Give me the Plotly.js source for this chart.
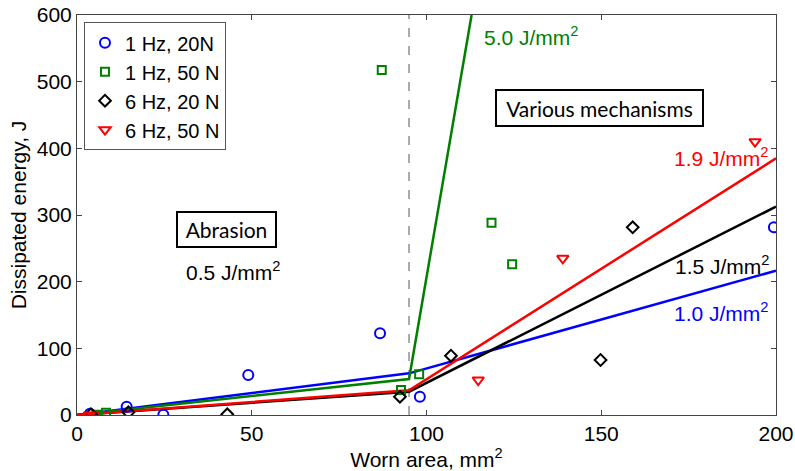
<!DOCTYPE html>
<html>
<head>
<meta charset="utf-8">
<script src="https://cdn.plot.ly/plotly-3.0.1.min.js"></script>
<style>html,body{margin:0;padding:0;background:#fff;}#chart{width:795px;height:471px;}</style>
</head>
<body>
<div id="chart"></div>
<script>
// Measured data points
const hz1n20_x = [3.7, 14.2, 24.7, 49, 86.7, 98.1, 199.4];
const hz1n20_y = [2, 12.5, 0.5, 60, 122.5, 27.5, 281.5];

const hz1n50_x = [5.6, 8.3, 87.2, 92.7, 97.9, 118.6, 124.5];
const hz1n50_y = [0.5, 3.5, 517.5, 37.5, 61, 288.5, 226];

const hz6n20_x = [4, 14.7, 43, 92.4, 107, 149.8, 159];
const hz6n20_y = [1, 4, 1, 27.5, 89, 82.5, 281.5];

const hz6n50_x = [3.5, 114.8, 139, 194];
const hz6n50_y = [0, 52.5, 235, 410];

// Fitted piecewise lines
const fit1n20_x = [0, 95, 200];
const fit1n20_y = [0, 62.5, 216.5];
const fit1n50_x = [0, 95, 112.9];
const fit1n50_y = [0, 54, 600];
const fit6n20_x = [0, 95, 200];
const fit6n20_y = [0, 35, 312.5];
const fit6n50_x = [0, 95, 200];
const fit6n50_y = [0, 37, 385];

const breakX = 95;

const BLUE = '#0000ff', GREEN = '#007f00', BLACK = '#000000', RED = '#ff0000';
const FONT = 'Liberation Sans, Arial, sans-serif';

const traces = [
  {x: fit1n20_x, y: fit1n20_y, mode: 'lines', line: {color: BLUE, width: 2.5}, showlegend: false, hoverinfo: 'skip'},
  {x: fit1n50_x, y: fit1n50_y, mode: 'lines', line: {color: GREEN, width: 2.5}, showlegend: false, hoverinfo: 'skip'},
  {x: fit6n20_x, y: fit6n20_y, mode: 'lines', line: {color: BLACK, width: 2.5}, showlegend: false, hoverinfo: 'skip'},
  {x: fit6n50_x, y: fit6n50_y, mode: 'lines', line: {color: RED, width: 2.5}, showlegend: false, hoverinfo: 'skip'},
  {x: hz1n20_x, y: hz1n20_y, mode: 'markers', name: '1 Hz, 20N',
   marker: {symbol: 'circle-open', size: 10, color: BLUE, line: {width: 2, color: BLUE}}},
  {x: hz1n50_x, y: hz1n50_y, mode: 'markers', name: '1 Hz, 50 N',
   marker: {symbol: 'square-open', size: 8, color: GREEN, line: {width: 2, color: GREEN}}},
  {x: hz6n20_x, y: hz6n20_y, mode: 'markers', name: '6 Hz, 20 N',
   marker: {symbol: 'diamond-open', size: 9, color: BLACK, line: {width: 2, color: BLACK}}},
  {x: hz6n50_x, y: hz6n50_y, mode: 'markers', name: '6 Hz, 50 N',
   marker: {symbol: 'triangle-down-open', size: 10, color: RED, line: {width: 2, color: RED}}}
];

const axisCommon = {
  showgrid: false, zeroline: false, showline: true, linecolor: '#444', linewidth: 1,
  mirror: 'ticks', ticks: 'inside', ticklen: 5, tickcolor: '#444',
  tickfont: {family: FONT, size: 21, color: '#000'}
};

const layout = {
  width: 795, height: 471,
  margin: {l: 77, r: 19, t: 15, b: 56},
  paper_bgcolor: '#fff', plot_bgcolor: '#fff',
  font: {family: FONT, color: '#000'},
  xaxis: Object.assign({}, axisCommon, {
    range: [0, 200], tickvals: [0, 50, 100, 150, 200],
    title: {text: 'Worn area, mm<sup>2</sup>', font: {family: FONT, size: 21}, standoff: 2}
  }),
  yaxis: Object.assign({}, axisCommon, {
    range: [0, 600], tickvals: [0, 100, 200, 300, 400, 500, 600],
    title: {text: 'Dissipated energy, J', font: {family: FONT, size: 21}, standoff: 4}
  }),
  legend: {
    x: 0.01, y: 0.982, xanchor: 'left', yanchor: 'top',
    bordercolor: '#555', borderwidth: 1, bgcolor: '#fff',
    font: {family: FONT, size: 20}, tracegroupgap: 0, itemwidth: 30
  },
  shapes: [
    {type: 'line', xref: 'x', yref: 'y', x0: breakX, x1: breakX, y0: 0, y1: 600,
     line: {color: '#555', width: 1, dash: 'dash'}, layer: 'below'}
  ],
  annotations: [
    {text: '5.0 J/mm<sup>2</sup>', x: 115.8, y: 568.5, xanchor: 'left', yanchor: 'middle', showarrow: false,
     font: {family: FONT, size: 21, color: GREEN}},
    {text: 'Various mechanisms', x: 149.5, y: 460.5, xanchor: 'center', yanchor: 'middle', showarrow: false,
     font: {family: 'Lato, sans-serif', size: 21, color: '#000'},
     bordercolor: '#000', borderwidth: 2, borderpad: 0, width: 205, height: 34, bgcolor: '#fff'},
    {text: 'Abrasion', x: 42.8, y: 279, xanchor: 'center', yanchor: 'middle', showarrow: false,
     font: {family: 'Lato, sans-serif', size: 21, color: '#000'},
     bordercolor: '#000', borderwidth: 2, borderpad: 0, width: 97, height: 33, bgcolor: '#fff'},
    {text: '0.5 J/mm<sup>2</sup>', x: 30.6, y: 216, xanchor: 'left', yanchor: 'middle', showarrow: false,
     font: {family: FONT, size: 21, color: '#000'}},
    {text: '1.9 J/mm<sup>2</sup>', x: 170.1, y: 387.5, xanchor: 'left', yanchor: 'middle', showarrow: false,
     font: {family: FONT, size: 21, color: RED}},
    {text: '1.5 J/mm<sup>2</sup>', x: 170.5, y: 225, xanchor: 'left', yanchor: 'middle', showarrow: false,
     font: {family: FONT, size: 21, color: '#000'}},
    {text: '1.0 J/mm<sup>2</sup>', x: 170.1, y: 155, xanchor: 'left', yanchor: 'middle', showarrow: false,
     font: {family: FONT, size: 21, color: BLUE}}
  ]
};

Plotly.newPlot('chart', traces, layout, {displayModeBar: false, staticPlot: true});
</script>
</body>
</html>
